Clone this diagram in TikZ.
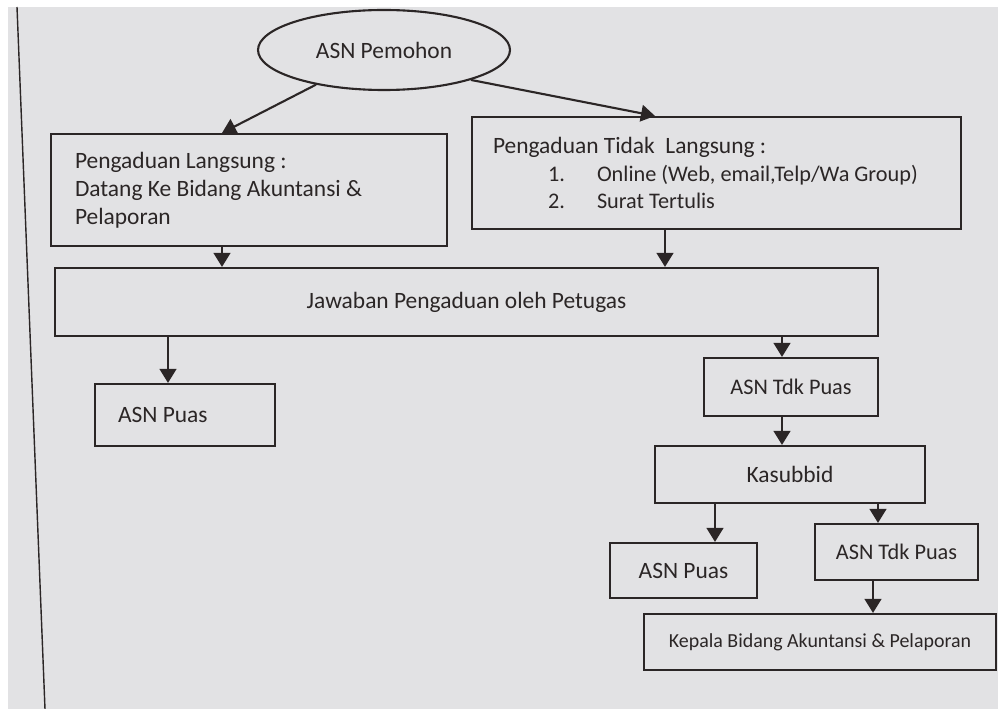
\documentclass[tikz,border=0pt]{standalone}
\usepackage{fontspec}
\setmainfont{Carlito}
\usetikzlibrary{arrows.meta,shapes.geometric}
\definecolor{ink}{HTML}{2B2626}
\definecolor{paper}{HTML}{E2E2E4}
\begin{document}
\begin{tikzpicture}[x=0.03cm,y=-0.03cm,
  font=\fontsize{20}{24}\selectfont,
  box/.style={draw=ink, line width=1.8pt, text=ink, rectangle, inner sep=0pt},
  arr/.style={draw=ink, line width=1.8pt, -{Triangle[width=0.5cm,length=0.42cm]}}]
\def\u{0.03cm}
% paper and frame
\fill[paper] (0,0) rectangle (998,709);
\useasboundingbox (0,0) rectangle (998,709);
\fill[white] (0,0) rectangle (998,7);
\fill[white] (0,0) rectangle (8,709);
\draw[ink, line width=1.2pt] (17,7) -- (45,709);

% nodes
\node[box, shape=ellipse, minimum width=252*\u, minimum height=80*\u] (ell) at (384,50) {ASN Pemohon};

\node[box, align=flush left, inner xsep=24*\u, text width=348*\u, minimum height=112*\u] (L) at (249,190)
  {Pengaduan Langsung :\\Datang Ke Bidang Akuntansi \&\\Pelaporan};

\node[box, align=flush left, inner xsep=21*\u, text width=447*\u, minimum height=112*\u,
      font=\fontsize{19}{23.4}\selectfont] (R) at (716.5,173)
  {{\fontsize{20}{23.4}\selectfont Pengaduan Tidak\ \ Langsung :}\\
   \hspace*{1.65cm}\makebox[1.47cm][l]{1.}Online (Web, email,Telp/Wa Group)\\
   \hspace*{1.65cm}\makebox[1.47cm][l]{2.}Surat Tertulis};

\node[box, minimum width=823*\u, minimum height=68*\u] (J) at (466.5,302) {Jawaban Pengaduan oleh Petugas};

\node[box, align=flush left, inner xsep=23*\u, text width=134*\u, minimum height=62*\u] (P1) at (185,415) {ASN Puas};

\node[box, minimum width=174*\u, minimum height=58*\u, font=\fontsize{19}{23}\selectfont] (T1) at (791,387) {ASN Tdk Puas};

\node[box, minimum width=270*\u, minimum height=57*\u] (K) at (790,474.5) {Kasubbid};

\node[box, minimum width=147*\u, minimum height=55*\u] (P2) at (683.5,570.5) {ASN Puas};

\node[box, minimum width=163*\u, minimum height=56*\u, font=\fontsize{19}{23}\selectfont] (T2) at (896.5,552) {ASN Tdk Puas};

\node[box, minimum width=352*\u, minimum height=56*\u, font=\fontsize{17}{21}\selectfont] (Kep) at (820,642) {Kepala Bidang Akuntansi \& Pelaporan};

% x positions of vertical connectors
\coordinate (xa) at (222,0);
\coordinate (xb) at (655,0);
\coordinate (xc) at (665,0);
\coordinate (xd) at (168,0);
\coordinate (xe) at (782,0);
\coordinate (xf) at (715,0);
\coordinate (xg) at (878,0);
\coordinate (xh) at (873,0);

% connectors
\draw[arr] (ell.-153) -- (L.north -| xa);
\draw[arr] (ell.-19) -- (R.north -| xb);
\draw[arr] (L.south -| xa) -- (J.north -| xa);
\draw[arr] (R.south -| xc) -- (J.north -| xc);
\draw[arr] (J.south -| xd) -- (P1.north -| xd);
\draw[arr] (J.south -| xe) -- (T1.north -| xe);
\draw[arr] (T1.south -| xe) -- (K.north -| xe);
\draw[arr] (K.south -| xf) -- (P2.north -| xf);
\draw[arr] (K.south -| xg) -- (T2.north -| xg);
\draw[arr] (T2.south -| xh) -- (Kep.north -| xh);
\end{tikzpicture}
\end{document}
